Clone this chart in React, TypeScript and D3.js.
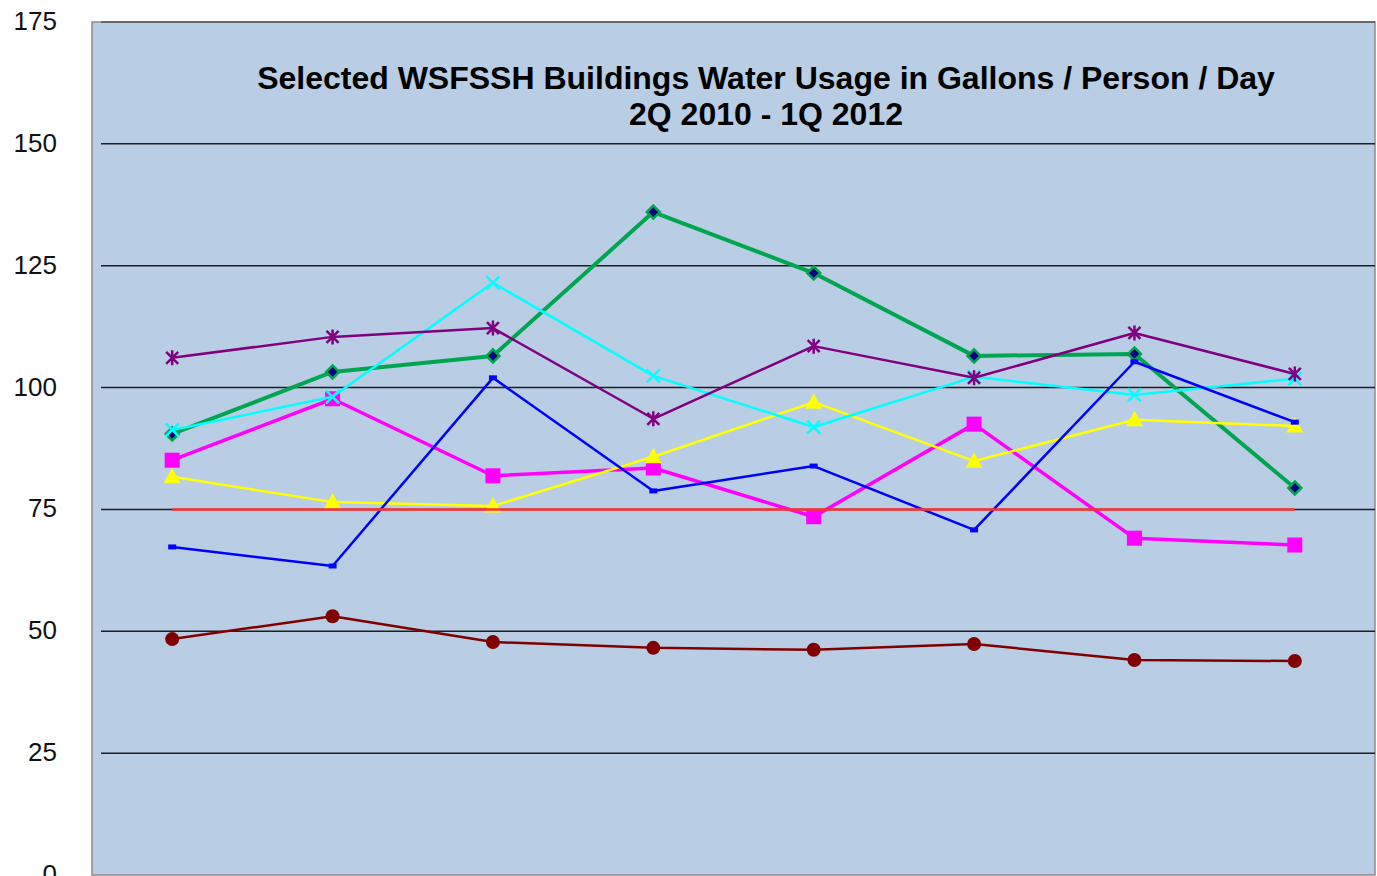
import { useEffect, useRef } from "react";
import * as d3 from "d3";

const quarters = ["2Q 2010", "3Q 2010", "4Q 2010", "1Q 2011", "2Q 2011", "3Q 2011", "4Q 2011", "1Q 2012"];
const yTicks = [0, 25, 50, 75, 100, 125, 150, 175];

const greenDiamond = [90.5, 103.2, 106.5, 136.0, 123.5, 106.5, 106.9, 79.4];
const magentaSquare = [85.1, 97.7, 81.9, 83.5, 73.5, 92.5, 69.1, 67.7];
const yellowTriangle = [81.7, 76.5, 75.7, 85.8, 97.0, 84.9, 93.4, 92.1];
const cyanCross = [91.3, 98.1, 121.5, 102.4, 91.9, 102.2, 98.5, 101.8];
const purpleStar = [106.1, 110.4, 112.2, 93.6, 108.5, 102.0, 111.2, 102.8];
const brownCircle = [48.4, 53.1, 47.8, 46.6, 46.2, 47.4, 44.1, 43.9];
const blueDash = [67.3, 63.4, 102.0, 78.8, 83.9, 70.8, 105.3, 92.9];
const target = [75, 75, 75, 75, 75, 75, 75, 75];

const titleLines = [
  "Selected WSFSSH Buildings Water Usage in Gallons / Person / Day",
  "2Q 2010 - 1Q 2012",
];

const W = 1377;
const H = 876;

const App = () => {
  const svgRef = useRef(null);

  useEffect(() => {
    const svg = d3.select(svgRef.current);
    svg.selectAll("*").remove();

    const left = 92, right = 1375, top = 22, bottom = 875;

    const x = d3.scalePoint().domain(quarters).range([left, right]).padding(0.5);
    const y = d3.scaleLinear().domain([0, 175]).range([bottom, top]);

    // plot area
    svg.append("rect")
      .attr("x", left).attr("y", top)
      .attr("width", right - left).attr("height", bottom - top)
      .attr("fill", "#B9CDE5")
      .attr("stroke", "#8c8c8c")
      .attr("stroke-width", 1.5);

    // gridlines
    svg.append("g")
      .selectAll("line")
      .data(yTicks.filter((t) => t > 0))
      .enter()
      .append("line")
      .attr("x1", left + 9).attr("x2", right)
      .attr("y1", (d) => y(d)).attr("y2", (d) => y(d))
      .attr("stroke", (d) => (d === 175 ? "#555" : "#1e1e1e"))
      .attr("stroke-width", 1.5);

    // y labels
    svg.append("g")
      .selectAll("text")
      .data(yTicks)
      .enter()
      .append("text")
      .attr("x", 57)
      .attr("y", (d) => y(d) - 1)
      .attr("text-anchor", "end")
      .attr("dominant-baseline", "central")
      .attr("font-family", "Liberation Sans, Arial, sans-serif")
      .attr("font-size", 26)
      .attr("fill", "#111")
      .text((d) => d);

    // title
    svg.append("g")
      .selectAll("text")
      .data(titleLines)
      .enter()
      .append("text")
      .attr("x", 766)
      .attr("y", (d, i) => 89 + i * 36)
      .attr("text-anchor", "middle")
      .attr("font-family", "Liberation Sans, Arial, sans-serif")
      .attr("font-weight", "bold")
      .attr("font-size", 32)
      .attr("fill", "#000")
      .text((d) => d);

    const line = d3.line<number>()
      .x((d, i) => x(quarters[i]))
      .y((d) => y(d));

    const drawLine = (data, color, width) => {
      svg.append("path")
        .datum(data)
        .attr("d", line)
        .attr("fill", "none")
        .attr("stroke", color)
        .attr("stroke-width", width)
        .attr("stroke-linejoin", "round");
    };

    const pts = (data) =>
      svg.append("g")
        .selectAll("g")
        .data(data)
        .enter()
        .append("g")
        .attr("transform", (d, i) => `translate(${x(quarters[i])},${y(d)})`);

    // green diamonds
    drawLine(greenDiamond, "#00A550", 4);
    pts(greenDiamond)
      .append("path")
      .attr("d", "M0,-6.5L6.5,0L0,6.5L-6.5,0Z")
      .attr("fill", "#000080")
      .attr("stroke", "#00A550")
      .attr("stroke-width", 2.5);

    // magenta squares
    drawLine(magentaSquare, "#FF00FF", 3.5);
    pts(magentaSquare)
      .append("rect")
      .attr("x", -7.5).attr("y", -7.5)
      .attr("width", 15).attr("height", 15)
      .attr("fill", "#FF00FF");

    // yellow triangles
    drawLine(yellowTriangle, "#FFFF00", 2.5);
    pts(yellowTriangle)
      .append("path")
      .attr("d", "M0,-9L8.5,6.5L-8.5,6.5Z")
      .attr("fill", "#FFFF00");

    // cyan crosses
    drawLine(cyanCross, "#00FFFF", 2.5);
    pts(cyanCross)
      .append("path")
      .attr("d", "M-6.5,-6.5L6.5,6.5M-6.5,6.5L6.5,-6.5")
      .attr("stroke", "#00FFFF")
      .attr("stroke-width", 2.5);

    // purple stars
    drawLine(purpleStar, "#800080", 2.5);
    pts(purpleStar)
      .append("path")
      .attr("d", "M-6,-6L6,6M-6,6L6,-6M0,-7.5L0,7.5")
      .attr("stroke", "#800080")
      .attr("stroke-width", 2.5);

    // dark red circles
    drawLine(brownCircle, "#800000", 2.5);
    pts(brownCircle)
      .append("circle")
      .attr("r", 7)
      .attr("fill", "#800000");

    // blue dashes
    drawLine(blueDash, "#0000FF", 2.5);
    pts(blueDash)
      .append("rect")
      .attr("x", -4).attr("y", -2.5)
      .attr("width", 8).attr("height", 5)
      .attr("fill", "#0000FF");

    // target line
    drawLine(target, "#FF3030", 2.5);
  }, []);

  return (
    <svg
      ref={svgRef}
      width={W}
      height={H}
      style={{ position: "absolute", left: 0, top: 0, background: "#fff" }}
    ></svg>
  );
};

export default App;
